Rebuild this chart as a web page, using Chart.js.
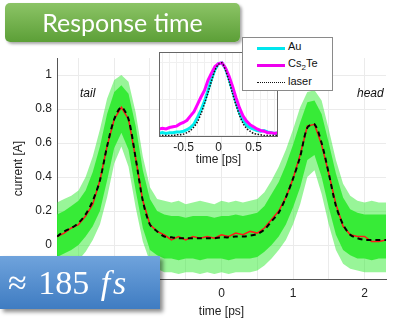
<!DOCTYPE html>
<html>
<head>
<meta charset="utf-8">
<script src="https://cdn.jsdelivr.net/npm/chart.js@4.4.1/dist/chart.umd.min.js"></script>
<style>
  body { margin: 0; background: #fff; }
  #wrap { position: relative; width: 394px; height: 325px; overflow: hidden; font-family: "Liberation Sans", Arial, sans-serif; }
  #main { position: absolute; left: 0; top: 0; }
  #inset { position: absolute; left: 150px; top: 44px; }
  .title { position: absolute; left: 5px; top: 3px; width: 235px; height: 39px; border-radius: 5px;
    background: linear-gradient(#8cc466, #5c9f37); box-shadow: 2px 2px 3px rgba(0,0,0,0.35);
    color: #fff; font-family: Lato, "Open Sans", sans-serif; font-size: 25px; line-height: 39px; text-align: center; }
  .res { position: absolute; left: 0; top: 256px; width: 160px; height: 53px;
    background: linear-gradient(#6fa3dc, #3f7cc2); box-shadow: 3px 3px 4px rgba(0,0,0,0.45);
    color: #fff; font-family: "Liberation Serif", serif; font-size: 34px; line-height: 53px; padding-left: 8px; box-sizing: border-box; word-spacing: 3px; }
  .res i { font-style: italic; letter-spacing: 3px; }
  .legend { position: absolute; left: 242px; top: 37px; width: 91px; height: 54px; box-sizing: border-box;
    border: 1px solid #8a8a8a; background: #fff; font-size: 11px; color: #111; }
  .legend .row { position: absolute; left: 14px; height: 14px; }
  .legend .ln { position: absolute; left: 0; width: 28px; }
  .legend .tx { position: absolute; left: 31px; top: -7px; white-space: nowrap; }
  .note { position: absolute; font-size: 12px; font-style: italic; color: #111; }
</style>
</head>
<body>
<div id="wrap">
  <canvas id="main" width="394" height="325"></canvas>
  <canvas id="inset" width="140" height="128"></canvas>
  <div class="title">Response time</div>
  <div class="legend">
    <div class="row" style="top:9px"><div class="ln" style="top:0;border-top:3px solid #00e6ee"></div><div class="tx">Au</div></div>
    <div class="row" style="top:26px"><div class="ln" style="top:0;border-top:3px solid #ee00ee"></div><div class="tx">Cs<sub style="font-size:8px">2</sub>Te</div></div>
    <div class="row" style="top:44px"><div class="ln" style="top:0;border-top:1.5px dotted #111"></div><div class="tx">laser</div></div>
  </div>
  <div class="note" style="left:80px;top:86px">tail</div>
  <div class="note" style="left:357px;top:86px">head</div>
  <div class="res">&asymp; 185 <i>fs</i></div>
</div>
<script>
// main trace: time axis [ps] and current [A]
const time = [-2.3, -2.2, -2.1, -2.0, -1.9, -1.8, -1.7, -1.6, -1.5, -1.4, -1.3, -1.2, -1.1, -1.0, -0.9, -0.8,
  -0.7, -0.6, -0.5, -0.4, -0.3, -0.2, -0.1, 0.0, 0.1, 0.2, 0.3, 0.4, 0.5, 0.6, 0.7, 0.8, 0.9, 1.0,
  1.1, 1.2, 1.3, 1.4, 1.5, 1.6, 1.7, 1.8, 1.9, 2.0, 2.1, 2.2, 2.3];
const fitCurrent = [0.05, 0.08, 0.10, 0.13, 0.18, 0.26, 0.38, 0.58, 0.74, 0.81, 0.74, 0.51, 0.26, 0.12, 0.08, 0.05,
  0.045, 0.04, 0.04, 0.04, 0.04, 0.04, 0.04, 0.045, 0.045, 0.05, 0.05, 0.055, 0.065, 0.09, 0.14, 0.19, 0.28, 0.39,
  0.52, 0.69, 0.71, 0.60, 0.42, 0.23, 0.12, 0.06, 0.04, 0.03, 0.03, 0.03, 0.03];
const meanCurrent = [0.05, 0.07, 0.10, 0.12, 0.17, 0.24, 0.38, 0.58, 0.74, 0.81, 0.74, 0.51, 0.26, 0.12, 0.08, 0.06,
  0.03, 0.05, 0.03, 0.05, 0.04, 0.05, 0.04, 0.06, 0.05, 0.07, 0.06, 0.08, 0.07, 0.10, 0.15, 0.20, 0.28, 0.39,
  0.53, 0.70, 0.71, 0.59, 0.42, 0.24, 0.11, 0.06, 0.05, 0.05, 0.02, 0.02, 0.03];
// spread of single shots (dense core and sparse outer)
const shotOuterHi = [0.25, 0.27, 0.29, 0.32, 0.40, 0.52, 0.68, 0.86, 0.97, 1.00, 0.96, 0.78, 0.52, 0.34, 0.27, 0.26,
  0.25, 0.26, 0.24, 0.25, 0.26, 0.25, 0.24, 0.26, 0.25, 0.26, 0.25, 0.26, 0.27, 0.31, 0.38, 0.46, 0.56, 0.68,
  0.81, 0.90, 0.91, 0.85, 0.68, 0.50, 0.36, 0.29, 0.26, 0.25, 0.26, 0.25, 0.25];
const shotInnerHi = [0.18, 0.20, 0.23, 0.26, 0.32, 0.43, 0.58, 0.77, 0.90, 0.94, 0.89, 0.70, 0.44, 0.27, 0.20, 0.18,
  0.17, 0.17, 0.16, 0.17, 0.17, 0.17, 0.16, 0.17, 0.17, 0.18, 0.17, 0.18, 0.19, 0.23, 0.30, 0.37, 0.47, 0.59,
  0.72, 0.84, 0.85, 0.77, 0.60, 0.42, 0.28, 0.21, 0.19, 0.18, 0.18, 0.18, 0.18];
const shotInnerLo = [-0.07, -0.05, -0.03, 0.00, 0.05, 0.11, 0.20, 0.38, 0.57, 0.66, 0.56, 0.32, 0.10, -0.03, -0.06, -0.08,
  -0.08, -0.09, -0.08, -0.08, -0.09, -0.08, -0.08, -0.08, -0.09, -0.08, -0.08, -0.08, -0.07, -0.04, 0.00, 0.05, 0.12, 0.22,
  0.34, 0.50, 0.53, 0.40, 0.22, 0.06, -0.03, -0.06, -0.08, -0.08, -0.09, -0.08, -0.08];
const shotOuterLo = [-0.16, -0.14, -0.12, -0.09, -0.04, 0.03, 0.12, 0.28, 0.48, 0.58, 0.46, 0.22, 0.02, -0.10, -0.14, -0.16,
  -0.16, -0.17, -0.16, -0.16, -0.17, -0.16, -0.17, -0.16, -0.17, -0.16, -0.16, -0.16, -0.15, -0.12, -0.08, -0.03, 0.03, 0.12,
  0.24, 0.40, 0.44, 0.30, 0.12, -0.03, -0.11, -0.14, -0.15, -0.16, -0.16, -0.16, -0.16];
const mainTicksX = [-2, -1.5, -1, -0.5, 0, 0.5, 1, 1.5, 2];
const mainTicksY = [0, 0.2, 0.4, 0.6, 0.8, 1];

// inset: normalised response
const insetTime = [-0.85, -0.8, -0.75, -0.7, -0.65, -0.6, -0.55, -0.5, -0.45, -0.4, -0.35, -0.3, -0.25, -0.2, -0.15, -0.1, -0.05,
  0.0, 0.05, 0.1, 0.15, 0.2, 0.25, 0.3, 0.35, 0.4, 0.45, 0.5, 0.55, 0.6, 0.65, 0.7, 0.75, 0.8, 0.85];
const au = [0.03, 0.04, 0.03, 0.04, 0.04, 0.05, 0.05, 0.06, 0.08, 0.11, 0.16, 0.25, 0.35, 0.47, 0.62, 0.78, 0.91,
  0.99, 1.00, 0.92, 0.78, 0.62, 0.46, 0.31, 0.21, 0.14, 0.11, 0.09, 0.07, 0.06, 0.07, 0.05, 0.04, 0.03, 0.03];
const cs2te = [0.09, 0.10, 0.09, 0.11, 0.12, 0.13, 0.16, 0.18, 0.21, 0.27, 0.33, 0.43, 0.53, 0.62, 0.76, 0.86, 0.95,
  0.99, 1.00, 0.93, 0.82, 0.68, 0.52, 0.38, 0.27, 0.20, 0.15, 0.12, 0.09, 0.07, 0.06, 0.04, 0.04, 0.03, 0.04];
const laser = [0.0, 0.0, 0.0, 0.0, 0.0, 0.01, 0.01, 0.02, 0.04, 0.07, 0.12, 0.19, 0.30, 0.44, 0.59, 0.75, 0.90,
  0.98, 1.00, 0.90, 0.75, 0.58, 0.42, 0.28, 0.17, 0.10, 0.06, 0.03, 0.02, 0.01, 0.0, 0.0, 0.0, 0.0, 0.0];
const insetTicksX = [-0.8, -0.7, -0.6, -0.5, -0.4, -0.3, -0.2, -0.1, 0, 0.1, 0.2, 0.3, 0.4, 0.5, 0.6, 0.7, 0.8];
const insetTicksY = [0, 0.5, 1];

const xy = (xs, ys) => xs.map((x, i) => ({ x: x, y: ys[i] }));
const setTicks = (vals) => (s) => { s.ticks = vals.map((v) => ({ value: v })); };
const axisFont = { family: "'Liberation Sans', Arial, sans-serif", size: 12 };
const isStep = (v, s) => Math.abs(v / s - Math.round(v / s)) < 1e-6;

const plain = { pointRadius: 0, borderWidth: 0, tension: 0 };
new Chart(document.getElementById("main"), {
  type: "line",
  data: {
    datasets: [
      { ...plain, data: xy(time, shotOuterLo), fill: false, order: 4 },
      { ...plain, data: xy(time, shotOuterHi), fill: 0, backgroundColor: "rgba(50,235,50,0.5)", order: 4 },
      { ...plain, data: xy(time, shotInnerLo), fill: false, order: 3 },
      { ...plain, data: xy(time, shotInnerHi), fill: 2, backgroundColor: "rgba(45,235,45,0.9)", order: 3 },
      { data: xy(time, meanCurrent), borderColor: "#ff1a1a", borderWidth: 1.5, pointRadius: 0, fill: false, order: 2 },
      { data: xy(time, fitCurrent), borderColor: "#000", borderWidth: 2, borderDash: [5, 4], pointRadius: 0, tension: 0.3, fill: false, order: 1 },
    ],
  },
  options: {
    responsive: false,
    animation: false,
    devicePixelRatio: 1,
    layout: { padding: { top: 58, right: 8, left: 0, bottom: 0 } },
    plugins: { legend: { display: false }, tooltip: { enabled: false } },
    scales: {
      x: {
        type: "linear", min: -2.3, max: 2.3,
        afterBuildTicks: setTicks(mainTicksX),
        afterFit: (s) => { s.height = 46; },
        ticks: { font: axisFont, color: "#222", padding: 7, maxRotation: 0, autoSkip: false,
          callback: (v) => (isStep(v, 1) ? String(Math.round(v)) : "") },
        grid: { color: "#ebebeb", drawTicks: false },
        border: { color: "#555" },
        title: { display: true, text: "time [ps]", font: axisFont, color: "#222", padding: { top: 0, bottom: 6 } },
      },
      y: {
        min: -0.2, max: 1.1,
        afterBuildTicks: setTicks(mainTicksY),
        afterFit: (s) => { s.width = 57; },
        ticks: { font: axisFont, color: "#222", padding: 5, callback: (v) => String(v) },
        grid: { color: "#ebebeb", drawTicks: false },
        border: { color: "#555" },
        title: { display: true, text: "current [A]", font: axisFont, color: "#222", padding: { top: 11, bottom: 0 } },
      },
    },
  },
});

const insetFrame = {
  id: "insetFrame",
  beforeDraw(chart) {
    const a = chart.chartArea, ctx = chart.ctx;
    ctx.save();
    ctx.fillStyle = "#fff";
    ctx.fillRect(a.left, a.top, a.right - a.left, a.bottom - a.top);
    ctx.restore();
  },
  afterDraw(chart) {
    const a = chart.chartArea, ctx = chart.ctx;
    ctx.save();
    ctx.strokeStyle = "#666";
    ctx.lineWidth = 1;
    ctx.strokeRect(a.left + 0.5, a.top + 0.5, a.right - a.left - 1, a.bottom - a.top - 1);
    ctx.restore();
  },
};

new Chart(document.getElementById("inset"), {
  type: "line",
  data: {
    datasets: [
      { data: xy(insetTime, laser), borderColor: "#111", borderWidth: 1.5, borderDash: [1.5, 1.5], pointRadius: 0, tension: 0.3, order: 1 },
      { data: xy(insetTime, cs2te), borderColor: "#ff00ff", borderWidth: 3, pointRadius: 0, order: 2 },
      { data: xy(insetTime, au), borderColor: "#00eeee", borderWidth: 3, pointRadius: 0, order: 3 },
    ],
  },
  options: {
    responsive: false,
    animation: false,
    devicePixelRatio: 1,
    layout: { padding: { top: 8, right: 12, left: 9, bottom: 0 } },
    plugins: { legend: { display: false }, tooltip: { enabled: false } },
    scales: {
      x: {
        type: "linear", min: -0.85, max: 0.85,
        afterBuildTicks: setTicks(insetTicksX),
        afterFit: (s) => { s.height = 35; },
        ticks: { font: axisFont, color: "#222", padding: 3, maxRotation: 0, autoSkip: false,
          callback: (v) => (isStep(v, 0.5) ? String(v) : "") },
        grid: { color: "#f0f0f0", drawTicks: false },
        border: { display: false },
        title: { display: true, text: "time [ps]", font: axisFont, color: "#222", padding: { top: 0, bottom: 5 } },
      },
      y: {
        min: -0.02, max: 1.15,
        afterBuildTicks: setTicks(insetTicksY),
        afterFit: (s) => { s.width = 0; },
        ticks: { display: false },
        grid: { color: "#f0f0f0", drawTicks: false },
        border: { display: false },
      },
    },
  },
  plugins: [insetFrame],
});
</script>
</body>
</html>
